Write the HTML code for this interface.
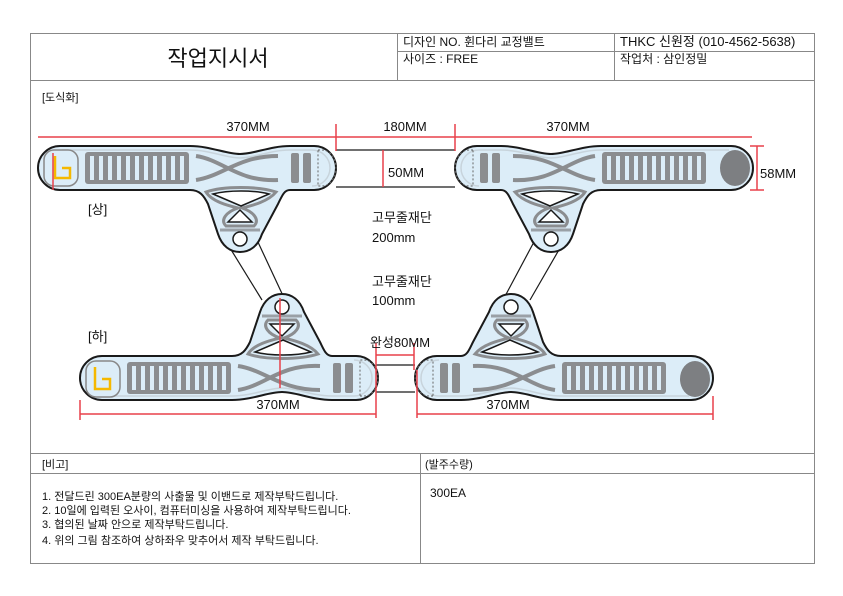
<!DOCTYPE html>
<html><head><meta charset="utf-8"><style>
body{margin:0;background:#fff;}
svg{display:block;font-family:"Liberation Sans","Noto Sans CJK KR",sans-serif;}
</style></head><body>
<svg width="843" height="596" viewBox="0 0 843 596" xmlns="http://www.w3.org/2000/svg">
<defs>
<g id="strap">
  <path d="M22,0 H152 C172,0 188,8 202,8 C216,8 232,0 252,0 H276 A22,22 0 0 1 298,22 A22,22 0 0 1 276,44 H252 C246,44 244,50 240,58 L224,88 C220,100 212,106 202,106 C192,106 184,100 180,88 L170,58 C166,50 162,44 152,44 H22 A22,22 0 0 1 0,22 A22,22 0 0 1 22,0 Z" fill="#dcedf8" stroke="#1a1a1a" stroke-width="2"/>
  <path d="M24,4 H152 C172,4 188,12 202,12 C216,12 232,4 252,4 H274 A18,18 0 0 1 292,22 A18,18 0 0 1 274,40" fill="none" stroke="#c8d4dc" stroke-width="1.5"/>
  <line x1="182" y1="84" x2="222" y2="84" stroke="#9aa0a6" stroke-width="3"/>
  <rect x="47" y="6" width="104" height="32" rx="3" fill="#8b8d90"/>
  <g fill="#dcedf8">
    <rect x="52" y="10" width="4" height="24"/><rect x="61" y="10" width="4" height="24"/><rect x="70" y="10" width="4" height="24"/><rect x="79" y="10" width="4" height="24"/><rect x="88" y="10" width="4" height="24"/><rect x="97" y="10" width="4" height="24"/><rect x="106" y="10" width="4" height="24"/><rect x="115" y="10" width="4" height="24"/><rect x="124" y="10" width="4" height="24"/><rect x="133" y="10" width="4" height="24"/><rect x="142" y="10" width="4" height="24"/>
  </g>
  <path d="M158,10 C185,14 200,36 240,34 M158,34 C185,30 200,10 240,10" fill="none" stroke="#8b8d90" stroke-width="4"/>
  <rect x="253" y="7" width="8" height="30" rx="2" fill="#8b8d90"/>
  <rect x="265" y="7" width="8" height="30" rx="2" fill="#8b8d90"/>
  <path d="M280,4 H284 A14,18 0 0 1 284,40 H280 Z" fill="none" stroke="#666" stroke-width="1" stroke-dasharray="2,2"/>
  <path d="M168,46 C185,40 220,40 238,46 C230,56 212,60 204,62 C216,66 222,74 216,80 H188 C182,74 188,66 200,62 C192,60 174,56 168,46 Z" fill="none" stroke="#8b8d90" stroke-width="3"/>
  <path d="M175,48 C190,44 216,44 231,48 L203,60 Z" fill="#fff" stroke="#1a1a1a" stroke-width="1.5"/>
  <path d="M190,76 L202,64 L214,76 Z" fill="#fff" stroke="#1a1a1a" stroke-width="1.5"/>
  <circle cx="202" cy="93" r="7" fill="#fff" stroke="#1a1a1a" stroke-width="1.5"/>
</g>
</defs>

<g stroke="#888" stroke-width="1" fill="none">
  <rect x="30.5" y="33.5" width="784" height="530"/>
  <line x1="30" y1="80.5" x2="815" y2="80.5"/>
  <line x1="397.5" y1="33" x2="397.5" y2="80"/>
  <line x1="614.5" y1="33" x2="614.5" y2="80"/>
  <line x1="397" y1="51.5" x2="815" y2="51.5"/>
  <line x1="30" y1="453.5" x2="815" y2="453.5"/>
  <line x1="30" y1="473.5" x2="815" y2="473.5"/>
  <line x1="420.5" y1="453" x2="420.5" y2="564"/>
</g>
<text x="218" y="66" font-size="22" text-anchor="middle" fill="#111">작업지시서</text>
<text x="403" y="46" font-size="12" fill="#111">디자인 NO. 휜다리 교정밸트</text>
<text x="403" y="63" font-size="12" fill="#111">사이즈 : FREE</text>
<text x="620" y="46" font-size="13" fill="#111">THKC 신원정 (010-4562-5638)</text>
<text x="620" y="63" font-size="12" fill="#111">작업처 : 삼인정밀</text>
<text x="42" y="101" font-size="11" fill="#111">[도식화]</text>
<text x="42" y="468" font-size="11" fill="#111">[비고]</text>
<text x="425" y="468" font-size="11" fill="#111">(발주수량)</text>
<text x="430" y="497" font-size="12" fill="#111">300EA</text>
<g font-size="11" fill="#111">
<text x="42" y="500">1. 전달드린 300EA분량의 사출물 및 이밴드로 제작부탁드립니다.</text>
<text x="42" y="514">2. 10일에 입력된 오사이, 컴퓨터미싱을 사용하여 제작부탁드립니다.</text>
<text x="42" y="528">3. 협의된 날짜 안으로 제작부탁드립니다.</text>
<text x="42" y="544">4. 위의 그림 참조하여 상하좌우 맞추어서 제작 부탁드립니다.</text>
</g>

<g stroke="#1a1a1a" stroke-width="1.2">
  <line x1="336" y1="150" x2="455" y2="150"/><line x1="336" y1="187" x2="455" y2="187"/>
  <line x1="376" y1="365" x2="415" y2="365"/><line x1="376" y1="392" x2="415" y2="392"/>
  <line x1="230" y1="248" x2="262" y2="300"/><line x1="257" y1="240" x2="285" y2="300"/>
  <line x1="535" y1="240" x2="503" y2="300"/><line x1="560" y1="248" x2="530" y2="300"/>
</g>

<use href="#strap" transform="translate(38,146)"/>
<use href="#strap" transform="translate(753,146) scale(-1,1)"/>
<use href="#strap" transform="translate(80,400) scale(1,-1)"/>
<use href="#strap" transform="translate(713,400) scale(-1,-1)"/>

<rect x="44" y="150" width="34" height="36" rx="10" fill="#dcedf8" stroke="#888" stroke-width="1.5"/>
<path d="M55,156 V178 H70 V168 H62" fill="none" stroke="#f5b800" stroke-width="2.5"/>
<rect x="86" y="361" width="34" height="36" rx="10" fill="#dcedf8" stroke="#888" stroke-width="1.5"/>
<path d="M95,367 V389 H110 V379 H102" fill="none" stroke="#f5b800" stroke-width="2.5"/>
<ellipse cx="735" cy="168" rx="15" ry="18" fill="#7d7f82"/>
<ellipse cx="695" cy="379" rx="15" ry="18" fill="#7d7f82"/>

<g stroke="#e8404a" stroke-width="1.5">
  <line x1="38" y1="137" x2="752" y2="137"/>
  <line x1="336" y1="124" x2="336" y2="151"/><line x1="455" y1="124" x2="455" y2="151"/>
  <line x1="383" y1="150" x2="383" y2="187"/>
  <line x1="757" y1="146" x2="757" y2="190"/>
  <line x1="750" y1="146" x2="764" y2="146"/><line x1="750" y1="190" x2="764" y2="190"/>
  <line x1="53" y1="153" x2="53" y2="190"/>
  <line x1="280" y1="298" x2="280" y2="388"/>
  <line x1="80" y1="414" x2="376" y2="414"/><line x1="417" y1="414" x2="713" y2="414"/>
  <line x1="80" y1="400" x2="80" y2="420"/><line x1="713" y1="396" x2="713" y2="420"/>
  <line x1="376" y1="343" x2="376" y2="418"/><line x1="414" y1="343" x2="414" y2="370"/>
  <line x1="417" y1="370" x2="417" y2="418"/>
  <line x1="376" y1="355" x2="414" y2="355"/>
</g>
<g font-size="13" fill="#111">
  <text x="248" y="131" text-anchor="middle">370MM</text>
  <text x="405" y="131" text-anchor="middle">180MM</text>
  <text x="568" y="131" text-anchor="middle">370MM</text>
  <text x="388" y="177">50MM</text>
  <text x="760" y="178">58MM</text>
  <text x="278" y="409" text-anchor="middle">370MM</text>
  <text x="508" y="409" text-anchor="middle">370MM</text>
  <text x="370" y="347">완성80MM</text>
  <text x="372" y="222">고무줄재단</text>
  <text x="372" y="242">200mm</text>
  <text x="372" y="286">고무줄재단</text>
  <text x="372" y="305">100mm</text>
  <text x="88" y="214">[상]</text>
  <text x="88" y="341">[하]</text>
</g>
</svg>
</body></html>
